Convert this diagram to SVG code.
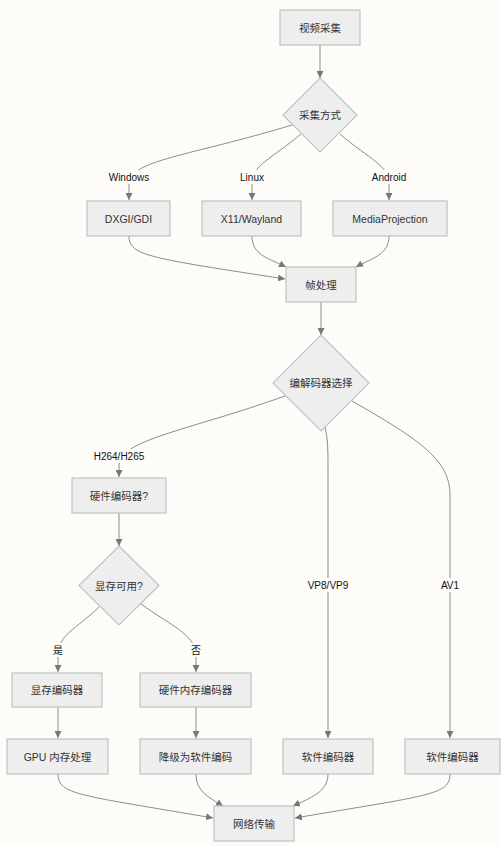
<svg xmlns="http://www.w3.org/2000/svg" width="501" height="846" viewBox="0 0 501 846">
<style>
.bg{fill:#fdfcf8}
.n{fill:#eeeeee;stroke:#c2c2c2;stroke-width:1.2}
.t{font-family:"Liberation Sans","Noto Sans CJK SC",sans-serif;font-size:10.5px;fill:#333;text-anchor:middle;dominant-baseline:central}
.e{fill:none;stroke:#8c8c8c;stroke-width:1}
.lb{fill:#fdfcf8}
.lt{font-family:"Liberation Sans","Noto Sans CJK SC",sans-serif;font-size:10px;fill:#111;text-anchor:middle;dominant-baseline:central}
</style>
<defs>
<marker id="a" viewBox="0 0 10 10" refX="10" refY="5" markerWidth="7" markerHeight="7" markerUnits="userSpaceOnUse" orient="auto">
<path d="M0,0 L10,5 L0,10 z" fill="#777"/>
</marker>
</defs>
<rect class="bg" x="0" y="0" width="501" height="846"/>
<g id="edges">
<path class="e" marker-end="url(#a)" d="M320,45 L320,78"/>
<path class="e" marker-end="url(#a)" d="M292,125 C190,156 129,160 129,184 L129,200"/>
<path class="e" marker-end="url(#a)" d="M301,134 C270,160 252,165 252,184 L252,200"/>
<path class="e" marker-end="url(#a)" d="M340,134 C370,160 389,165 389,184 L389,200"/>
<path class="e" marker-end="url(#a)" d="M129,236 C129,256 150,258 285,279"/>
<path class="e" marker-end="url(#a)" d="M252,236 C252,255 268,258 286,267"/>
<path class="e" marker-end="url(#a)" d="M389,236 C389,255 372,258 356,267"/>
<path class="e" marker-end="url(#a)" d="M321,302 L321,335"/>
<path class="e" marker-end="url(#a)" d="M285,396 C190,430 119,440 119,465 L119,477"/>
<path class="e" marker-end="url(#a)" d="M325,427 C328,440 328,450 328,470 L328,738"/>
<path class="e" marker-end="url(#a)" d="M352,401 C420,440 450,460 450,495 L450,738"/>
<path class="e" marker-end="url(#a)" d="M119,513 L119,546"/>
<path class="e" marker-end="url(#a)" d="M99,607 C75,630 58,635 58,655 L58,672"/>
<path class="e" marker-end="url(#a)" d="M141,604 C170,625 196,635 196,655 L196,672"/>
<path class="e" marker-end="url(#a)" d="M58,707 L58,738"/>
<path class="e" marker-end="url(#a)" d="M196,707 L196,738"/>
<path class="e" marker-end="url(#a)" d="M58,774 C58,795 80,795 213,818"/>
<path class="e" marker-end="url(#a)" d="M196,774 C196,792 210,798 223,806"/>
<path class="e" marker-end="url(#a)" d="M328,774 C328,792 310,798 293,806"/>
<path class="e" marker-end="url(#a)" d="M450,774 C450,795 430,795 295,818"/>
<g id="edge-labels">
<rect class="lb" x="107" y="170" width="44" height="14"/><text class="lt" x="129" y="177">Windows</text>
<rect class="lb" x="238" y="170" width="28" height="14"/><text class="lt" x="252" y="177">Linux</text>
<rect class="lb" x="370" y="170" width="38" height="14"/><text class="lt" x="389" y="177">Android</text>
<rect class="lb" x="92" y="449" width="54" height="14"/><text class="lt" x="119" y="456">H264/H265</text>
<rect class="lb" x="306" y="578" width="44" height="14"/><text class="lt" x="328" y="585">VP8/VP9</text>
<rect class="lb" x="440" y="578" width="20" height="14"/><text class="lt" x="450" y="585">AV1</text>
<rect class="lb" x="52" y="643" width="12" height="14"/><text class="lt" x="58" y="650">是</text>
<rect class="lb" x="190" y="643" width="12" height="14"/><text class="lt" x="196" y="650">否</text>
</g>
</g>
<g id="n-capture"><rect class="n" x="280" y="10" width="80" height="35"/><text class="t" x="320" y="28">视频采集</text></g>
<g id="n-method"><path class="n" d="M320,78 L357,115 L320,152 L283,115 z"/><text class="t" x="320" y="115">采集方式</text></g>
<g id="n-dxgi"><rect class="n" x="87" y="201" width="83" height="35"/><text class="t" x="128.5" y="218.5">DXGI/GDI</text></g>
<g id="n-x11"><rect class="n" x="202" y="201" width="99" height="35"/><text class="t" x="251.5" y="218.5">X11/Wayland</text></g>
<g id="n-media"><rect class="n" x="333" y="201" width="114" height="35"/><text class="t" x="390" y="218.5">MediaProjection</text></g>
<g id="n-frame"><rect class="n" x="286" y="267" width="70" height="35"/><text class="t" x="321" y="284.5">帧处理</text></g>
<g id="n-codec"><path class="n" d="M321,335 L369,383 L321,431 L273,383 z"/><text class="t" x="321" y="383">编解码器选择</text></g>
<g id="n-hw"><rect class="n" x="72" y="478" width="94" height="35"/><text class="t" x="119" y="495.5">硬件编码器?</text></g>
<g id="n-vram"><path class="n" d="M119,546 L159,585.5 L119,625 L79,585.5 z"/><text class="t" x="119" y="585.5">显存可用?</text></g>
<g id="n-vramenc"><rect class="n" x="12" y="673" width="90" height="34"/><text class="t" x="57" y="690">显存编码器</text></g>
<g id="n-hwmem"><rect class="n" x="140" y="673" width="111" height="34"/><text class="t" x="195.5" y="690">硬件内存编码器</text></g>
<g id="n-gpu"><rect class="n" x="7" y="739" width="101" height="35"/><text class="t" x="57.5" y="756.5">GPU 内存处理</text></g>
<g id="n-fallback"><rect class="n" x="140" y="739" width="111" height="35"/><text class="t" x="195.5" y="756.5">降级为软件编码</text></g>
<g id="n-sw1"><rect class="n" x="283" y="739" width="90" height="35"/><text class="t" x="328" y="756.5">软件编码器</text></g>
<g id="n-sw2"><rect class="n" x="405" y="739" width="95" height="35"/><text class="t" x="452.5" y="756.5">软件编码器</text></g>
<g id="n-net"><rect class="n" x="214" y="806" width="80" height="35"/><text class="t" x="254" y="823.5">网络传输</text></g>
</svg>
